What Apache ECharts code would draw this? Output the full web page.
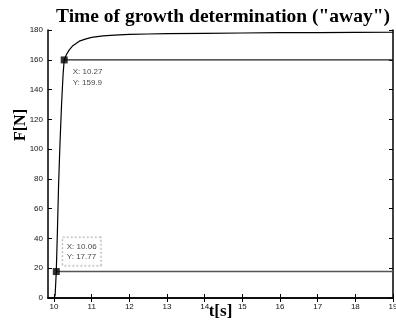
<!DOCTYPE html>
<html><head><meta charset="utf-8">
<script src="https://cdn.jsdelivr.net/npm/echarts@6/dist/echarts.min.js"></script>
<style>html,body{margin:0;padding:0;background:#fff}#c{width:396px;height:326px}</style>
</head><body><div id="c"></div>
<script>
const titleText = 'Time of growth determination ("away")';
const xName = 't[s]';
const yName = 'F[N]';
const tData = [10.0, 10.03, 10.06, 10.09, 10.12, 10.16, 10.2, 10.24, 10.27, 10.33, 10.4, 10.5, 10.67, 10.85, 11.0, 11.3, 11.6, 12.0, 12.5, 13.0, 14.0, 15.0, 16.0, 17.0, 18.0, 19.0];
const fData = [0, 2, 17.77, 45, 75, 105, 130, 150, 159.9, 163.5, 166.5, 169.5, 172.5, 174, 175, 176, 176.6, 177, 177.3, 177.5, 177.8, 178, 178.2, 178.3, 178.4, 178.5];
const tip1 = [10.27, 159.9];
const tip2 = [10.06, 17.77];
const xTicks = [10, 11, 12, 13, 14, 15, 16, 17, 18, 19];
const yTicks = [0, 20, 40, 60, 80, 100, 120, 140, 160, 180];
const xMin = 9.84, xMax = 19, yMin = 0, yMax = 180;

const chart = echarts.init(document.getElementById('c'), null, {renderer: 'canvas'});
const tickFont = {fontFamily: 'Liberation Sans', fontSize: 8, color: '#111'};
const axisLine = {show: true, lineStyle: {color: '#000', width: 1.5}};
chart.setOption({
  animation: false,
  backgroundColor: '#fff',
  title: {text: titleText, left: 218, textAlign: 'center', top: 2,
    textStyle: {fontFamily: 'Liberation Serif', fontSize: 19.5, fontWeight: 'bold', color: '#000'}},
  grid: {left: 48, top: 30, right: 3, bottom: 28, outerBoundsMode: 'none', containLabel: false},
  xAxis: [{
    type: 'value', min: xMin, max: xMax, position: 'bottom',
    axisLine: axisLine,
    axisTick: {show: true, inside: true, length: 4, customValues: xTicks, lineStyle: {color: '#000'}},
    axisLabel: {customValues: xTicks, margin: 5, ...tickFont},
    splitLine: {show: false},
    name: xName, nameLocation: 'middle', nameGap: 5, nameMoveOverlap: false,
    nameTextStyle: {fontFamily: 'Liberation Serif', fontSize: 17, fontWeight: 'bold', color: '#000', verticalAlign: 'top'}
  }, {
    type: 'value', min: xMin, max: xMax, position: 'top',
    axisLine: axisLine,
    axisTick: {show: true, inside: true, length: 4, customValues: xTicks, lineStyle: {color: '#000'}},
    axisLabel: {show: false}, splitLine: {show: false}
  }],
  yAxis: [{
    type: 'value', min: yMin, max: yMax, interval: 20, position: 'left',
    axisLine: axisLine,
    axisTick: {show: true, inside: true, length: 4, lineStyle: {color: '#000'}},
    axisLabel: {margin: 5, ...tickFont},
    splitLine: {show: false},
    name: yName, nameLocation: 'middle', nameGap: 19, nameRotate: 90, nameMoveOverlap: false,
    nameTextStyle: {fontFamily: 'Liberation Serif', fontSize: 16, fontWeight: 'bold', color: '#000', padding: [0, 0, 0, 78]}
  }, {
    type: 'value', min: yMin, max: yMax, interval: 20, position: 'right',
    axisLine: axisLine,
    axisTick: {show: true, inside: true, length: 4, lineStyle: {color: '#000'}},
    axisLabel: {show: false}, splitLine: {show: false}
  }],
  series: [
    {type: 'line', data: tData.map((t, i) => [t, fData[i]]), showSymbol: false,
      lineStyle: {color: '#000', width: 1.2}, z: 3},
    {type: 'line', data: [tip1, [xMax, tip1[1]]], showSymbol: false,
      lineStyle: {color: '#222', width: 1.2}, z: 2},
    {type: 'line', data: [tip2, [xMax, tip2[1]]], showSymbol: false,
      lineStyle: {color: '#555', width: 1.6}, z: 2},
    {type: 'scatter', data: [tip1], symbol: 'rect', symbolSize: 7,
      itemStyle: {color: '#000'}, z: 5,
      label: {show: true, position: 'right', offset: [0, 17], align: 'left',
        formatter: 'X: ' + tip1[0] + '\nY: ' + tip1[1],
        fontFamily: 'Liberation Sans', fontSize: 8, lineHeight: 11, color: '#111'}},
    {type: 'scatter', data: [tip2], symbol: 'rect', symbolSize: 7,
      itemStyle: {color: '#000'}, z: 5,
      label: {show: true, position: 'right', offset: [-2, -20], align: 'left',
        formatter: 'X: ' + tip2[0] + '\nY: ' + tip2[1],
        fontFamily: 'Liberation Sans', fontSize: 8, lineHeight: 10, color: '#111',
        borderColor: '#999', borderWidth: 1, borderType: 'dotted', padding: [4, 4, 4, 4],
        backgroundColor: '#fff'}}
  ]
});
</script></body></html>
